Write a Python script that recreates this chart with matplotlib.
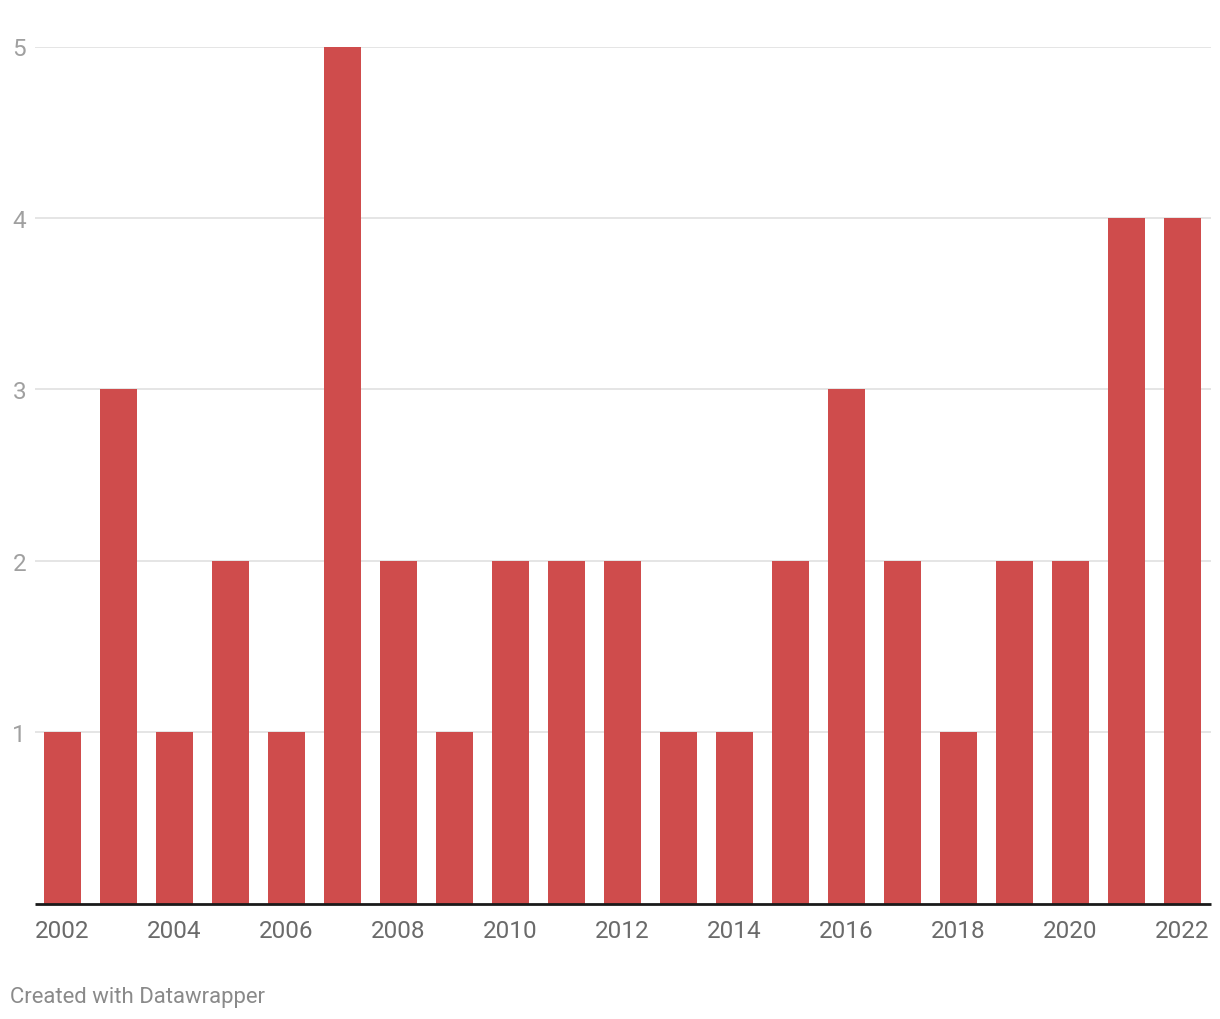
import matplotlib.pyplot as plt

plt.rcParams['font.family'] = ['Roboto', 'DejaVu Sans']

years = list(range(2002, 2023))
counts = [1, 3, 1, 2, 1, 5, 2, 1, 2, 2, 2, 1, 1, 2, 3, 2, 1, 2, 2, 4, 4]
tick_years = [2002, 2004, 2006, 2008, 2010, 2012, 2014, 2016, 2018, 2020, 2022]
y_ticks = [1, 2, 3, 4, 5]

fig = plt.figure(figsize=(12.2, 10.2), dpi=100)
# axes in figure fractions: left 34.5px, right 1210.5px, bottom 904px, top 47px
ax = fig.add_axes([34.5 / 1220, (1020 - 904.5) / 1020, 1176 / 1220, (904.5 - 47.5) / 1020])

ax.bar(years, counts, width=0.66, color="#cf4c4c", zorder=3)

ax.set_xlim(2001.5, 2022.5)
ax.set_ylim(0, 5)

for v in y_ticks:
    ax.axhline(v, color="#e3e3e3", lw=1.3, zorder=1)
ax.axhline(0, color="#1a1a1a", lw=2.0, zorder=4, clip_on=False, solid_capstyle="butt")

ax.set_xticks(tick_years)
ax.set_xticklabels([str(y) for y in tick_years])
ax.set_yticks(y_ticks)
ax.set_yticklabels([str(v) for v in y_ticks])
ax.tick_params(axis="x", length=0, pad=11, labelsize=17.5, labelcolor="#6a6a6a")
ax.tick_params(axis="y", length=0, pad=6, labelsize=17.5, labelcolor="#a0a0a0")

for s in ax.spines.values():
    s.set_visible(False)

fig.text(10 / 1220, 1 - 998 / 1020, "Created with Datawrapper", fontsize=15.9,
         color="#8a8a8a", va="center", ha="left")

fig.savefig("out.png", dpi=100, facecolor="white")
